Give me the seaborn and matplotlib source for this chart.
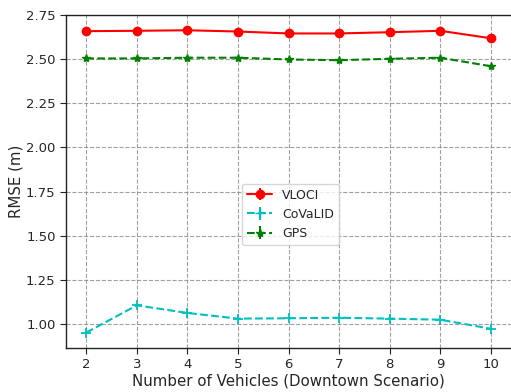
import numpy as np
import pandas as pd
import matplotlib
matplotlib.use("Agg")
import matplotlib.pyplot as plt
import seaborn as sns

vehicles = [2, 3, 4, 5, 6, 7, 8, 9, 10]
vloci = [2.656, 2.658, 2.661, 2.654, 2.643, 2.643, 2.650, 2.658, 2.616]
covalid = [0.954, 1.108, 1.065, 1.033, 1.035, 1.038, 1.033, 1.027, 0.976]
gps = [2.502, 2.502, 2.506, 2.506, 2.496, 2.492, 2.500, 2.506, 2.458]
yticks = [1.00, 1.25, 1.50, 1.75, 2.00, 2.25, 2.50, 2.75]

sns.set_style("ticks")
plt.rcParams['font.family'] = ['DejaVu Sans']

fig = plt.figure(figsize=(5.11, 3.92), dpi=100)
ax = fig.add_axes([66/511, 1-347.5/392, (511-66)/511, (347.5-14.5)/392])

df = pd.DataFrame({"x": vehicles, "VLOCI": vloci, "CoVaLID": covalid, "GPS": gps})
specs = [("VLOCI", "#ff0000", "-", "o", 6, 1.5),
         ("CoVaLID", "#00bfbf", "--", "+", 6.5, 1.5),
         ("GPS", "#008000", "--", "*", 6, 1.5)]
for name, col, ls, mk, ms, lw in specs:
    sns.lineplot(data=df, x="x", y=name, ax=ax, color=col, linestyle=ls,
                 marker=mk, markersize=ms, linewidth=lw, markeredgecolor=col,
                 markeredgewidth=1.3 if mk == "+" else 1, legend=False)

handles = []
for name, col, ls, mk, ms, lw in specs:
    h = ax.errorbar([], [], yerr=[], color=col, linestyle=ls, marker=mk,
                    markersize=ms, linewidth=lw, label=name)
    handles.append(h)

ax.set_xlim(1.6, 10.4)
ax.set_ylim(0.87, 2.75)
ax.set_xticks(vehicles)
ax.set_yticks(yticks)
ax.set_yticklabels([f"{v:.2f}" for v in yticks])
ax.grid(True, color="gray", linestyle="--", linewidth=0.8, alpha=0.75)
ax.set_axisbelow(True)
for s in ["left", "bottom", "top"]:
    ax.spines[s].set_visible(True)
    ax.spines[s].set_color("#222222")
    ax.spines[s].set_linewidth(1.0)
ax.spines["right"].set_visible(False)
ax.tick_params(axis="both", labelsize=9.5, direction="out", length=4, color="#222222")
ax.set_xlabel("Number of Vehicles (Downtown Scenario)", fontsize=10.8, labelpad=2)
ax.set_ylabel("RMSE (m)", fontsize=10.8, labelpad=2)
ax.legend(handles=handles, labels=[s[0] for s in specs], loc="center",
          bbox_to_anchor=(0.505, 0.40), fontsize=9, frameon=True)

fig.savefig("out.png", dpi=100)
